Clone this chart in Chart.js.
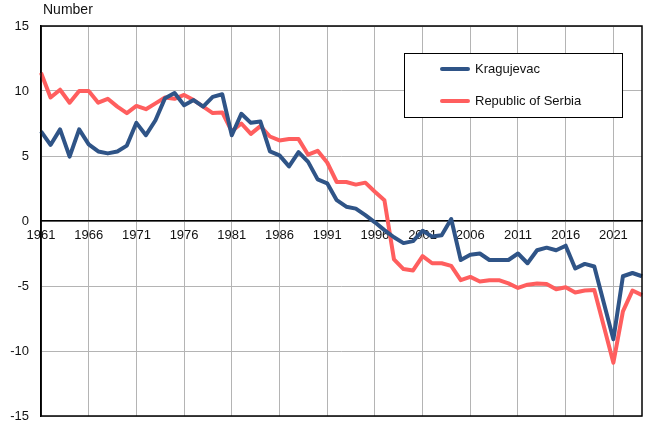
<!DOCTYPE html>
<html>
<head>
<meta charset="utf-8">
<script src="https://cdn.jsdelivr.net/npm/chart.js@4"></script>
<style>
  html, body { margin: 0; padding: 0; background: #fff; }
  #wrap { width: 645px; height: 421px; }
</style>
</head>
<body>
<div id="wrap"><canvas id="chart" width="645" height="421"></canvas></div>
<script>
const years = [];
for (let y = 1961; y <= 2024; y++) years.push(String(y));

const kragujevac = [
  6.9, 5.85, 7.05, 4.95, 7.05, 5.9, 5.35, 5.2, 5.35, 5.8,
  7.55, 6.6, 7.75, 9.45, 9.85, 8.9, 9.3, 8.8, 9.55, 9.75,
  6.6, 8.25, 7.55, 7.65, 5.35, 5.05, 4.2, 5.3, 4.55, 3.2,
  2.9, 1.6, 1.1, 0.95, 0.45, -0.1, -0.7, -1.25, -1.7, -1.55,
  -0.75, -1.2, -1.1, 0.15, -3.0, -2.6, -2.5, -3.0, -3.0, -3.0,
  -2.5, -3.25, -2.25, -2.05, -2.25, -1.9, -3.65, -3.3, -3.5, -6.3,
  -9.1, -4.25, -4.0, -4.25
];

const serbia = [
  11.4, 9.5, 10.1, 9.1, 10.0, 10.0, 9.1, 9.4, 8.8, 8.3,
  8.85, 8.6, 9.05, 9.5, 9.4, 9.7, 9.3, 8.8, 8.3, 8.35,
  6.9, 7.5, 6.7, 7.3, 6.5, 6.2, 6.3, 6.3, 5.1, 5.4,
  4.5, 3.0, 3.0, 2.8, 2.95, 2.25, 1.6, -2.95, -3.7, -3.8,
  -2.7, -3.25, -3.25, -3.45, -4.55, -4.3, -4.65, -4.55, -4.55, -4.8,
  -5.15, -4.9, -4.8, -4.85, -5.25, -5.1, -5.5, -5.35, -5.3, -8.1,
  -10.9, -6.95, -5.35, -5.7
];

const yTicks = [-15, -10, -5, 0, 5, 10, 15];

const FONT = '"Liberation Sans", Arial, sans-serif';
const gridGray = '#b4b4b4';

// frame, axis title and the boxed legend
const decor = {
  id: 'decor',
  afterDatasetsDraw(chart) {
    const { ctx, chartArea: a } = chart;
    ctx.save();
    ctx.strokeStyle = '#000';
    ctx.lineWidth = 1.5;
    ctx.strokeRect(a.left, a.top, a.right - a.left, a.bottom - a.top);

    ctx.fillStyle = '#111';
    ctx.font = '14px ' + FONT;
    ctx.textAlign = 'left';
    ctx.textBaseline = 'middle';
    ctx.fillText('Number', a.left + 2, 10);

    // legend
    const bx = 404, by = 53, bw = 218, bh = 64;
    ctx.fillStyle = '#fff';
    ctx.fillRect(bx, by, bw, bh);
    ctx.lineWidth = 1;
    ctx.strokeStyle = '#000';
    ctx.strokeRect(bx + 0.5, by + 0.5, bw, bh);
    ctx.font = '13px ' + FONT;
    chart.data.datasets.forEach((ds, i) => {
      const yy = by + 16 + i * 32;
      ctx.strokeStyle = ds.borderColor;
      ctx.lineWidth = 4;
      ctx.lineCap = 'round';
      ctx.beginPath();
      ctx.moveTo(442, yy);
      ctx.lineTo(468, yy);
      ctx.stroke();
      ctx.fillStyle = '#111';
      ctx.fillText(ds.label, 475, yy);
    });
    ctx.restore();
  }
};

new Chart(document.getElementById('chart'), {
  type: 'line',
  data: {
    labels: years,
    datasets: [
      {
        label: 'Kragujevac',
        data: kragujevac,
        borderColor: '#2f5487',
        backgroundColor: '#2f5487',
        borderWidth: 4,
        pointRadius: 0,
        tension: 0,
        borderJoinStyle: 'round'
      },
      {
        label: 'Republic of Serbia',
        data: serbia,
        borderColor: '#ff5e5e',
        backgroundColor: '#ff5e5e',
        borderWidth: 4,
        pointRadius: 0,
        tension: 0,
        borderJoinStyle: 'round'
      }
    ]
  },
  options: {
    responsive: false,
    animation: false,
    layout: { padding: { top: 26, right: 3, bottom: 5, left: 0 } },
    plugins: {
      legend: { display: false },
      tooltip: { enabled: false }
    },
    scales: {
      x: {
        position: { y: 0 },
        offset: false,
        border: { display: true, color: '#000', width: 1.5 },
        grid: {
          drawTicks: false,
          lineWidth: 1,
          color: c => (c.index % 5 === 0 ? gridGray : 'rgba(0,0,0,0)')
        },
        ticks: {
          autoSkip: false,
          maxRotation: 0,
          padding: 7,
          color: '#111',
          font: { family: FONT, size: 13 },
          callback: function (v, i) { return i % 5 === 0 ? this.getLabelForValue(v) : ''; }
        },
        afterFit: s => { s.paddingLeft = 0; s.paddingRight = 0; }
      },
      y: {
        min: -15,
        max: 15,
        border: { display: true, color: '#000', width: 1.5 },
        grid: { drawTicks: false, color: gridGray, lineWidth: 1 },
        afterBuildTicks: s => { s.ticks = yTicks.map(v => ({ value: v })); },
        ticks: {
          padding: 12,
          color: '#111',
          font: { family: FONT, size: 13 }
        },
        afterFit: s => { s.width = 41; s.paddingTop = 0; s.paddingBottom = 0; }
      }
    }
  },
  plugins: [decor]
});
</script>
</body>
</html>
